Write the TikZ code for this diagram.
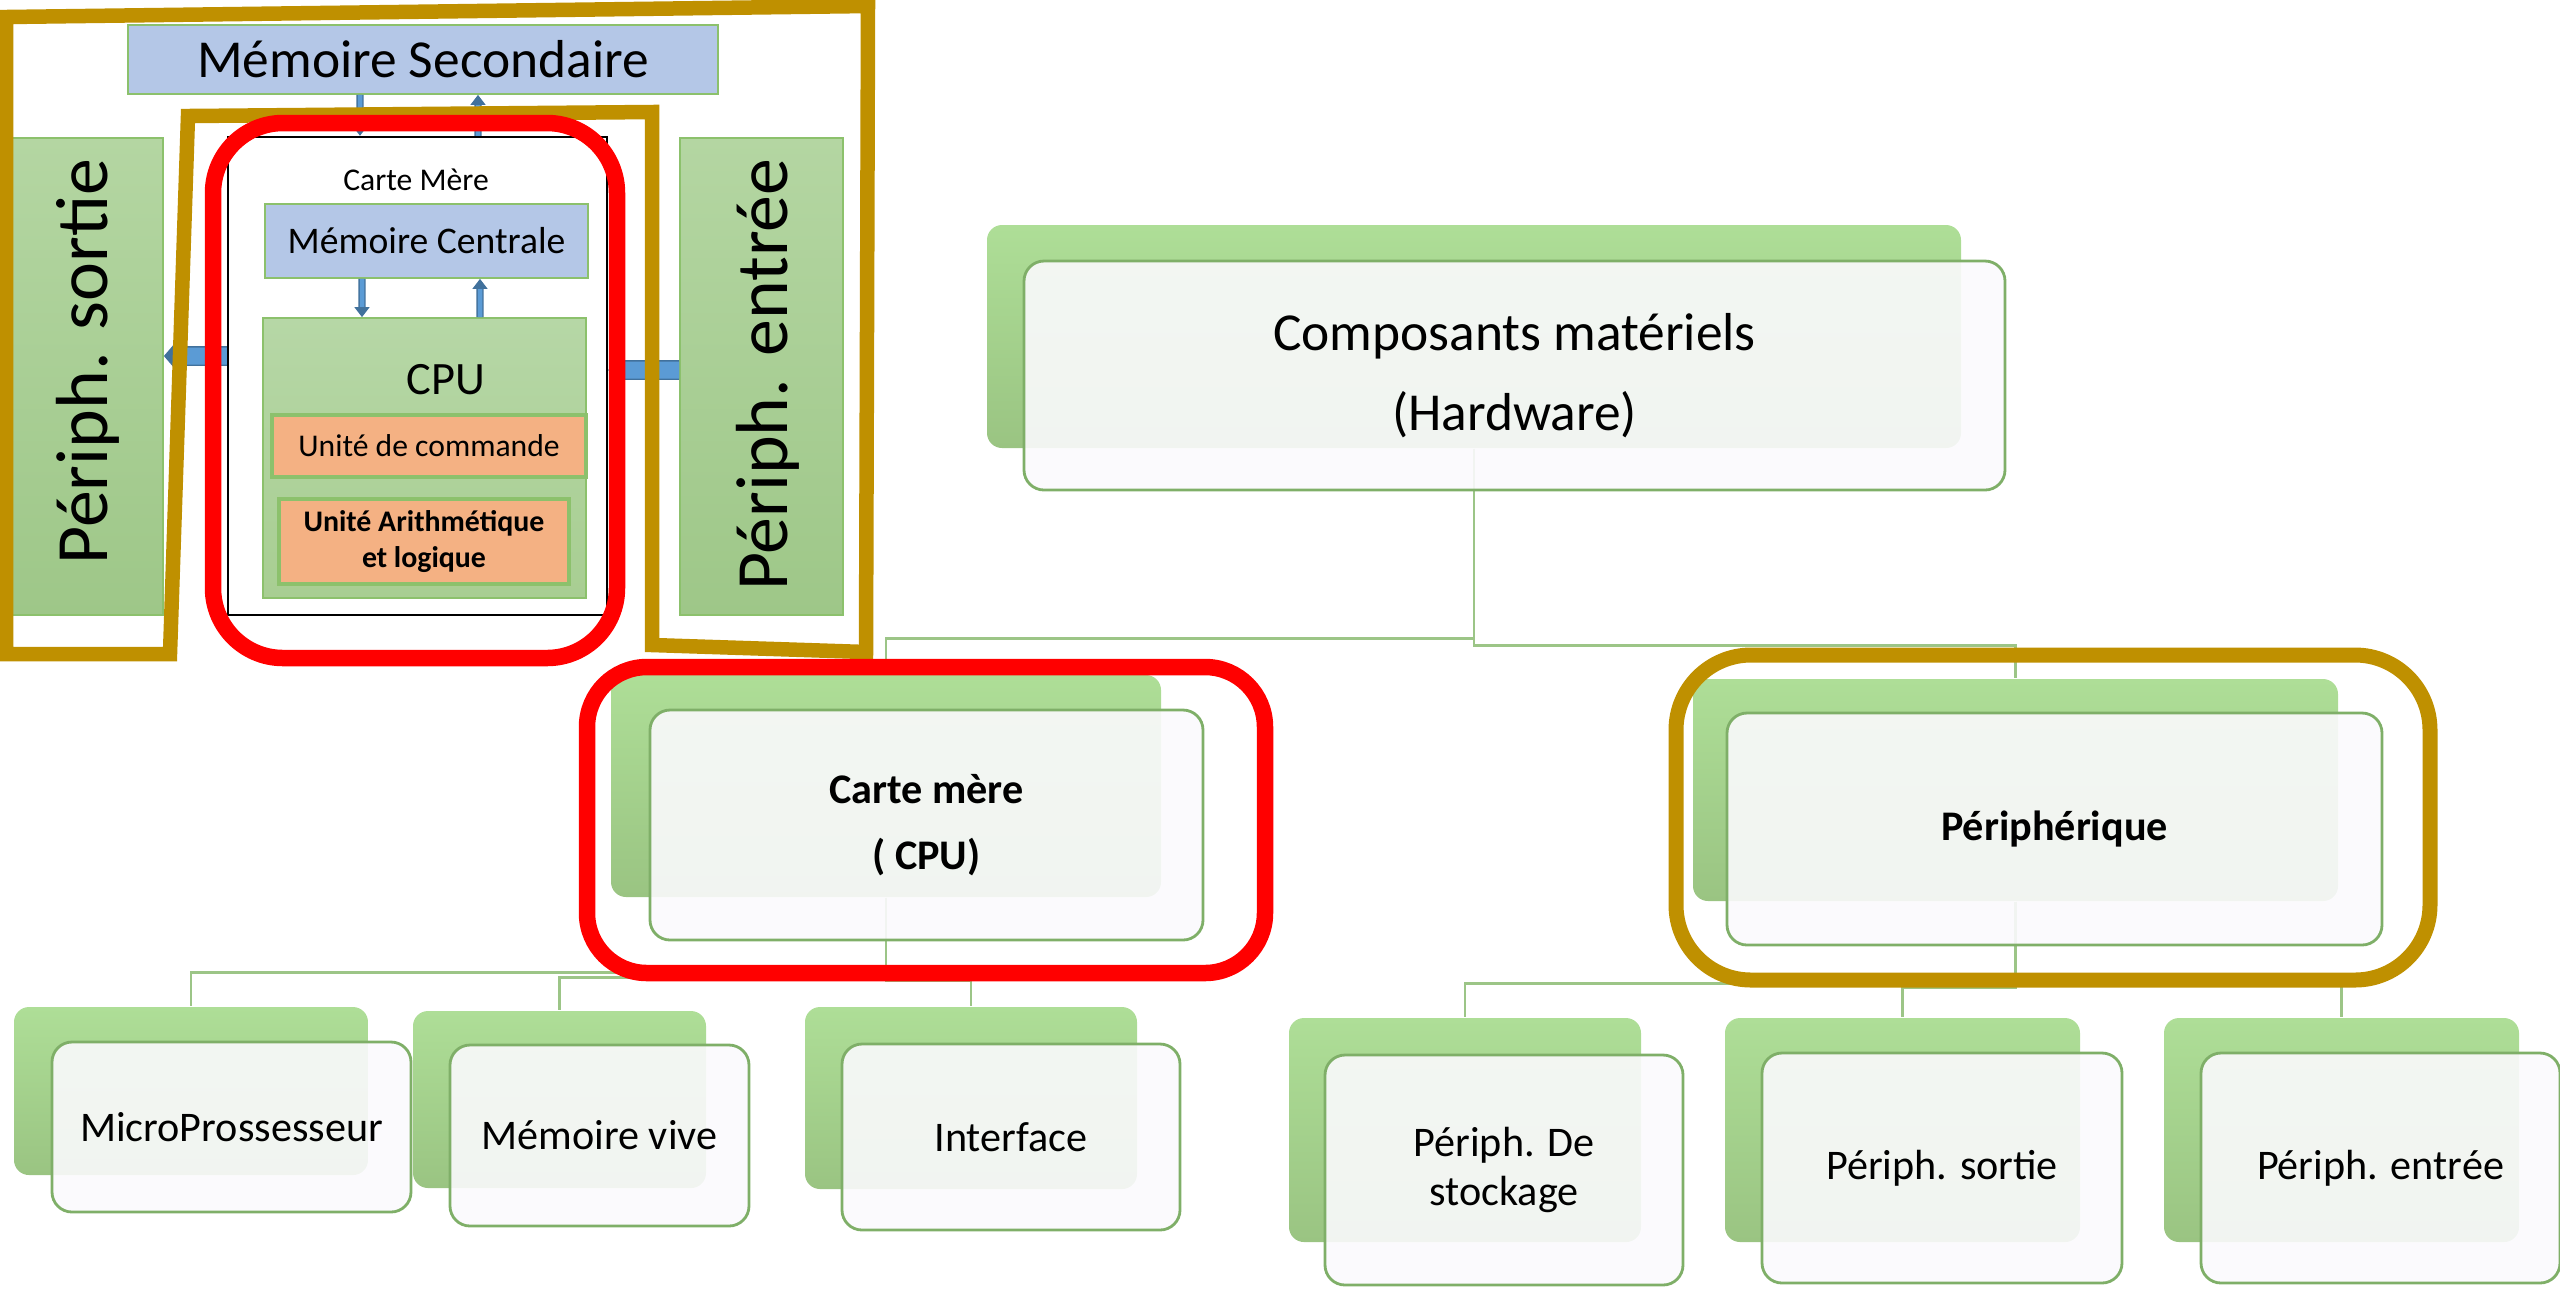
\documentclass[tikz,border=0pt]{standalone}
\usepackage{fontspec}
\setmainfont{Carlito}
\usepackage{tikz}
\usetikzlibrary{arrows.meta, positioning, calc, backgrounds}
\definecolor{memBlue}{HTML}{B4C7E7}
\definecolor{cpuTop}{HTML}{B6D7A6}
\definecolor{cpuBot}{HTML}{A8CE92}
\definecolor{sideTop}{HTML}{B4D6A2}
\definecolor{sideBot}{HTML}{9EC788}
\definecolor{unitOrange}{HTML}{F4B183}
\definecolor{edgeGreen}{HTML}{8CC16C}
\definecolor{arrowFill}{HTML}{5B9BD5}
\definecolor{arrowEdge}{HTML}{41719C}
\definecolor{ringRed}{HTML}{FF0000}
\definecolor{ringGold}{HTML}{BF9000}
\definecolor{backTop}{HTML}{AEDE97}
\definecolor{backBot}{HTML}{9AC482}
\definecolor{frontFill}{HTML}{FBFAFD}
\definecolor{frontEdge}{HTML}{7FAF68}
\definecolor{linkGreen}{HTML}{9CC587}

\begin{document}
\begin{tikzpicture}[
    box/.style={draw=edgeGreen, line width=0.5pt, inner sep=0pt},
    mem/.style={box, fill=memBlue},
    unit/.style={box, fill=unitOrange, line width=1pt, align=center},
    side/.style={box, top color=sideTop, bottom color=sideBot},
    cpubox/.style={box, top color=cpuTop, bottom color=cpuBot},
    vblock/.style={draw=arrowEdge, line width=0.4pt, double=arrowFill, double distance=0.045cm,
        -{Triangle[length=0.1cm, width=0.15cm]}},
    hblock/.style={draw=arrowEdge, line width=0.4pt, double=arrowFill, double distance=0.17cm,
        -{Triangle[length=0.13cm, width=0.30cm]}},
    goldline/.style={draw=ringGold, line width=0.145cm, line join=miter},
    redline/.style={draw=ringRed, line width=0.165cm},
    back/.style={rounded corners=0.15cm, top color=backTop, middle color=backBot, bottom color=backBot, inner sep=0pt},
    front/.style={rounded corners=0.2cm, draw=frontEdge, line width=0.8pt, fill=frontFill,
        fill opacity=0.9, text opacity=1, align=center, inner sep=0pt, font=\fontsize{12}{14}\selectfont},
    link/.style={draw=linkGreen, line width=0.8pt}
]
\useasboundingbox (0,0) rectangle (25.6,-12.89);

% Machine
\node[mem, minimum width=5.90cm, minimum height=0.69cm, font=\fontsize{15.2}{18}\selectfont] at (4.23,-0.595) (ms) {Mémoire Secondaire};
\node[draw=black, line width=0.7pt, fill=white, minimum width=3.79cm, minimum height=4.78cm] at (4.175,-3.76) (board) {};
\node[font=\fontsize{9}{11}\selectfont] at (4.16,-1.80) (boardlbl) {Carte Mère};
\node[mem, minimum width=3.23cm, minimum height=0.74cm, font=\fontsize{10.7}{12}\selectfont] at (4.265,-2.41) (mc) {Mémoire Centrale};
\node[cpubox, minimum width=3.23cm, minimum height=2.80cm] at (4.245,-4.58) (cpu) {};
\node[font=\fontsize{13.2}{15}\selectfont] at (4.46,-3.80) (cpulbl) {CPU};
\node[unit, minimum width=3.14cm, minimum height=0.62cm, font=\fontsize{9}{11}\selectfont] at (4.29,-4.46) (uc) {Unité de commande};
\node[unit, minimum width=2.90cm, minimum height=0.85cm, font=\bfseries\fontsize{8.5}{10}\selectfont] at (4.24,-5.415) (ual) {Unité Arithmétique\\et logique};

% Peripheriques
\node[side, minimum width=1.57cm, minimum height=4.77cm] at (0.845,-3.765) (psortie) {};
\node[rotate=90, anchor=east, inner sep=0pt, font=\fontsize{21}{25}\selectfont] at (0.88,-1.58) (sortielbl) {Périph. sortie};
\node[side, minimum width=1.63cm, minimum height=4.77cm] at (7.615,-3.765) (pentree) {};
\node[rotate=90, anchor=east, inner sep=0pt, font=\fontsize{21}{25}\selectfont] at (7.68,-1.58) (entreelbl) {Périph. entrée};

% Arrows
\draw[vblock] ([xshift=-6.3mm]ms.south) -- ([xshift=-5.75mm]board.north);
\draw[vblock] ([xshift=6.05mm]board.north) -- ([xshift=5.5mm]ms.south);
\draw[vblock] ([xshift=-6.45mm]mc.south) -- ([xshift=-6.25mm]cpu.north);
\draw[vblock] ([xshift=5.55mm]cpu.north) -- ([xshift=5.35mm]mc.south);
\draw[hblock] ([yshift=2mm]board.west) -- ([yshift=2.05mm]psortie.east);
\draw[hblock] ([yshift=0.65mm]pentree.west) -- ([yshift=0.6mm]board.east);

% Frames
\draw[goldline] (0.06,-0.17) -- (8.68,-0.06) -- (8.66,-6.52) -- (6.52,-6.45) -- (6.52,-1.12)
    -- (1.88,-1.16) -- (1.70,-6.54) -- (0.06,-6.54) -- cycle;
\draw[redline, rounded corners=0.7cm] (2.13,-1.23) rectangle (6.17,-6.58);

% Hardware
\node[back, minimum width=9.74cm, minimum height=2.23cm] at (14.74,-3.365) (hw) {};
\node[front, minimum width=9.81cm, minimum height=2.29cm, font=\fontsize{15.2}{22.8}\selectfont] at (15.145,-3.755) (hwtxt) {Composants matériels\\(Hardware)};

\node[back, minimum width=5.50cm, minimum height=2.22cm] at (8.86,-7.86) (cm) {};
\node[front, minimum width=5.53cm, minimum height=2.30cm, font=\bfseries\fontsize{12}{18.8}\selectfont] at (9.265,-8.25) (cmtxt) {Carte mère\\( CPU)};
\node[back, minimum width=6.45cm, minimum height=2.22cm] at (20.155,-7.90) (peri) {};
\node[front, minimum width=6.55cm, minimum height=2.32cm, font=\bfseries\fontsize{12}{14}\selectfont] at (20.545,-8.29) (peritxt) {Périphérique};

% Carte mere
\node[back, minimum width=3.54cm, minimum height=1.68cm] at (1.91,-10.91) (micro) {};
\node[front, minimum width=3.59cm, minimum height=1.70cm] at (2.315,-11.27) (microtxt) {MicroProssesseur};
\node[back, minimum width=2.93cm, minimum height=1.77cm] at (5.595,-10.995) (vive) {};
\node[front, minimum width=2.99cm, minimum height=1.81cm] at (5.995,-11.355) (vivetxt) {Mémoire vive};
\node[back, minimum width=3.32cm, minimum height=1.82cm] at (9.71,-10.98) (iface) {};
\node[front, minimum width=3.38cm, minimum height=1.86cm] at (10.11,-11.37) (ifacetxt) {Interface};

% Peripherique
\node[back, minimum width=3.52cm, minimum height=2.24cm] at (14.65,-11.30) (stock) {};
\node[front, minimum width=3.58cm, minimum height=2.30cm, font=\fontsize{12}{13.7}\selectfont] at (15.04,-11.70) (stocktxt) {Périph. De\\stockage};
\node[back, minimum width=3.55cm, minimum height=2.24cm] at (19.025,-11.30) (sortie) {};
\node[front, minimum width=3.60cm, minimum height=2.30cm] at (19.42,-11.68) (sortietxt) {Périph. sortie};
\node[back, minimum width=3.55cm, minimum height=2.24cm] at (23.415,-11.30) (entree) {};
\node[front, minimum width=3.59cm, minimum height=2.30cm] at (23.805,-11.68) (entreetxt) {Périph. entrée};

% Links
\begin{scope}[on background layer]
    \draw[link] (hw.south) -- ++(0,-1.90) -| (cm.north);
    \draw[link] (hw.south) -- ++(0,-1.97) -| (peri.north);
    \foreach \kid/\drop in {micro/0.75, vive/0.80, iface/0.83} \draw[link] (cm.south) -- ++(0,-\drop) -| (\kid.north);
    \foreach \kid/\drop in {stock/0.82, sortie/0.86, entree/0.82} \draw[link] (peri.south) -- ++(0,-\drop) -| (\kid.north);
\end{scope}

% Rings
\draw[redline, rounded corners=0.6cm] (5.87,-6.67) rectangle (12.65,-9.73);
\draw[goldline, line width=0.15cm, rounded corners=0.75cm] (16.76,-6.55) rectangle (24.30,-9.80);
\end{tikzpicture}
\end{document}
